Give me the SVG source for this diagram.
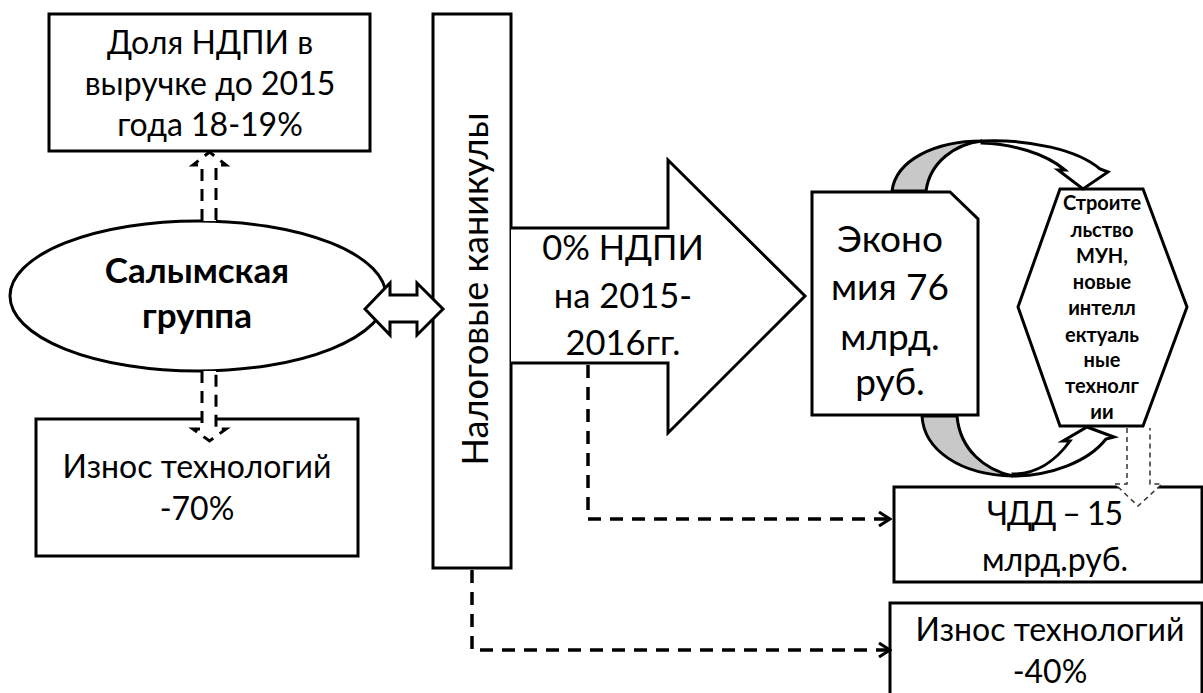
<svg xmlns="http://www.w3.org/2000/svg" width="1203" height="693" viewBox="0 0 1203 693">
<style>
.s{fill:#fff;stroke:#000;stroke-width:3;stroke-linejoin:miter}
.t{font-family:Lato,"Noto Sans",sans-serif;fill:#000;text-anchor:middle}
.b{font-weight:bold}
.d{fill:none;stroke:#000;stroke-width:3.5;stroke-dasharray:13 9}
.dd{fill:#fff;stroke:#000;stroke-width:3;stroke-dasharray:12 8}
.td{fill:#fff;stroke:#333;stroke-width:1.5;stroke-dasharray:5 4}
</style>
<defs>
<marker id="chev" markerWidth="14" markerHeight="16" refX="12" refY="8" orient="auto" markerUnits="userSpaceOnUse">
<path d="M1,1 L12,8 L1,15" fill="none" stroke="#000" stroke-width="3"/>
</marker>
</defs>
<rect width="1203" height="693" fill="#fff"/>

<g id="n-dolya">
<rect class="s" x="49" y="14" width="321" height="137"/>
<text class="t" font-size="32" x="210" y="54">Доля НДПИ в</text>
<text class="t" font-size="32" x="210" y="95">выручке до 2015</text>
<text class="t" font-size="32" x="210" y="136">года 18-19%</text>
</g>

<g id="n-iznos70">
<rect class="s" x="36" y="419" width="322" height="137"/>
<text class="t" font-size="32" x="197" y="478">Износ технологий</text>
<text class="t" font-size="32" x="197" y="520">-70%</text>
</g>

<g id="n-salym">
<ellipse class="s" cx="198" cy="296" rx="188" ry="75"/>
<text class="t b" font-size="35" x="197" y="283">Салымская</text>
<text class="t b" font-size="35" x="197" y="328">группа</text>
</g>

<g id="n-kanikuly">
<rect class="s" x="433" y="14" width="78" height="554"/>
<text class="t" font-size="36" transform="translate(488,289) rotate(-90)">Налоговые каникулы</text>
</g>

<g id="n-ndpi0">
<path class="s" d="M511,228 L668,228 L668,160 L805,296 L668,433 L668,363 L511,363"/>
<text class="t" font-size="34.5" x="623" y="260">0% НДПИ</text>
<text class="t" font-size="34.5" x="623" y="308">на 2015-</text>
<text class="t" font-size="34.5" x="623" y="355">2016гг.</text>
</g>

<g id="n-econ">
<path class="s" d="M812,192 L950,192 L978,219 L978,415 L812,415 Z"/>
<text class="t" font-size="37" x="890" y="252">Эконо</text>
<text class="t" font-size="37" x="890" y="300">мия 76</text>
<text class="t" font-size="37" x="890" y="350">млрд.</text>
<text class="t" font-size="37" x="890" y="395">руб.</text>
</g>

<g id="n-stroit">
<path class="s" d="M1060,189 L1143,189 L1187,307 L1143,426 L1060,426 L1018,307 Z"/>
<g class="t b" font-size="20">
<text x="1102" y="210">Строите</text>
<text x="1102" y="237">льство</text>
<text x="1102" y="263">МУН,</text>
<text x="1102" y="289">новые</text>
<text x="1102" y="315">интелл</text>
<text x="1102" y="342">ектуаль</text>
<text x="1102" y="367">ные</text>
<text x="1102" y="393">технолг</text>
<text x="1102" y="419">ии</text>
</g>
</g>

<g id="n-chdd">
<rect class="s" x="894" y="487" width="308" height="95"/>
<text class="t" font-size="32" x="1055" y="525" textLength="136" lengthAdjust="spacing">ЧДД – 15</text>
<text class="t" font-size="32" x="1055" y="571">млрд.руб.</text>
</g>

<g id="n-iznos40">
<rect class="s" x="890" y="603" width="312" height="95"/>
<text class="t" font-size="32" x="1050" y="641">Износ технологий</text>
<text class="t" font-size="32" x="1050" y="683">-40%</text>
</g>

<g id="connectors">
<path class="s" d="M365,309 L390,283 L390,295 L417,295 L417,283 L443,309 L417,335 L417,322 L390,322 L390,335 Z"/>
<path class="dd" d="M202,221 L202,165 L193,165 L209.5,152 L226,165 L216,165 L216,221"/>
<path class="dd" d="M202,371 L202,429 L193,429 L209.5,441 L226,429 L216,429 L216,371"/>
<path class="d" d="M588,365 L588,519 L890,519" marker-end="url(#chev)"/>
<path class="d" d="M472,570 L472,650 L890,650" marker-end="url(#chev)"/>
<path d="M892,191 C896,160 935,141 982,141 C955,144 930,162 926,191 Z" fill="#c8c8c8" stroke="#000" stroke-width="3"/>
<path class="s" d="M982,141 C1030,139 1078,150 1100,169 L1108,172 L1083,189 L1058,170 L1065,170 C1045,153 1012,144 982,143 Z"/>
<path d="M922,416 C924,450 960,475 1013,476 C985,470 960,450 957,416 Z" fill="#c8c8c8" stroke="#000" stroke-width="3"/>
<path class="s" d="M1013,476 C1050,476 1088,462 1106,439 L1114,437 L1087,427 L1063,441 L1070,441 C1055,462 1035,474 1013,474 Z"/>
<path class="td" d="M1127,428 L1127,484 L1115,484 L1138,506 L1162,484 L1150,484 L1150,428"/>
</g>
</svg>
